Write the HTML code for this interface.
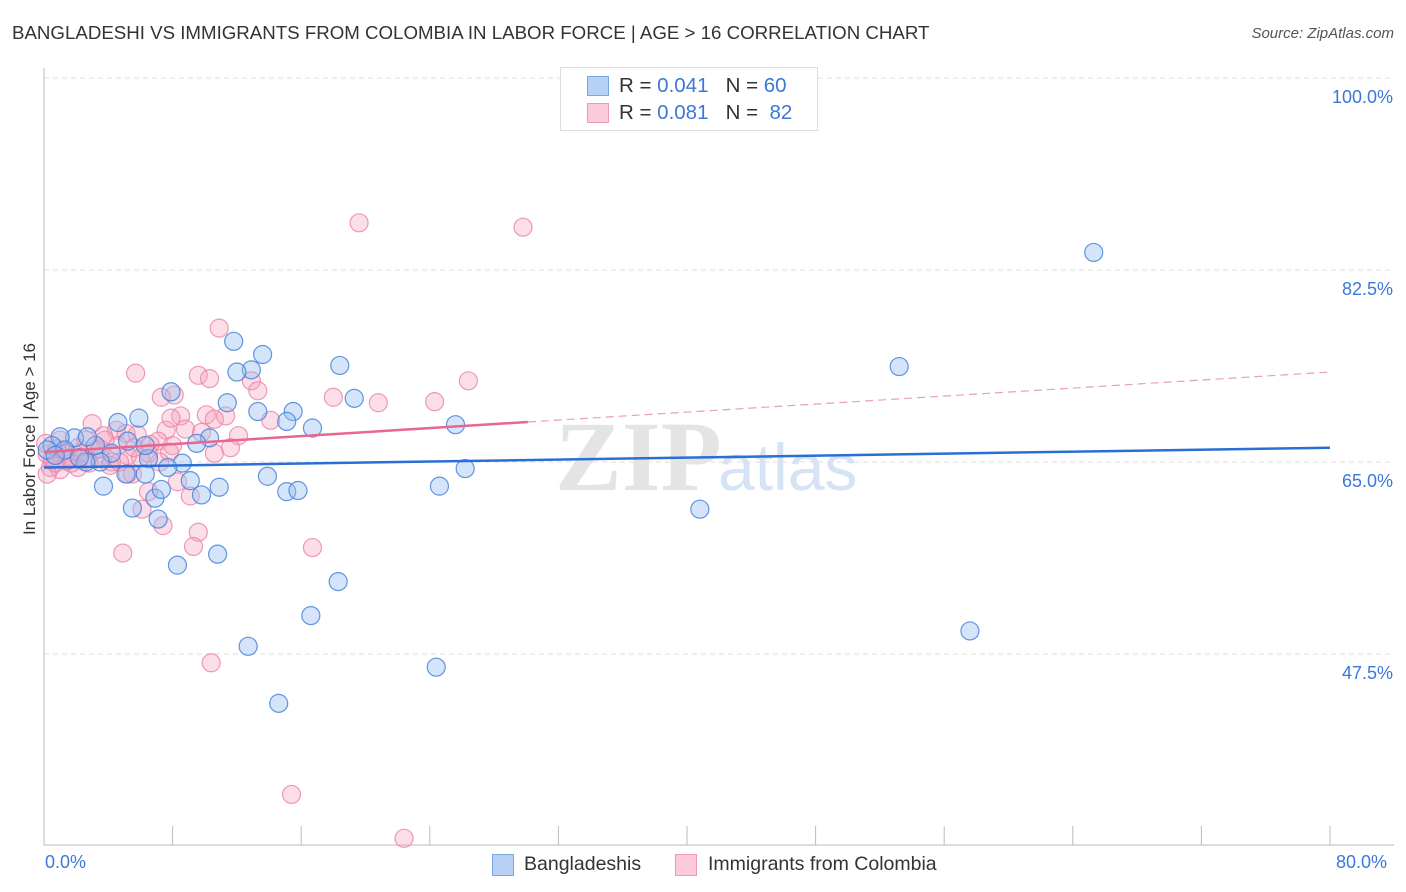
<!DOCTYPE html>
<html><head><meta charset="utf-8"><style>
body{margin:0;background:#fff;font-family:"Liberation Sans",sans-serif;}
#c{position:relative;width:1406px;height:892px;overflow:hidden;}
.t{position:absolute;white-space:nowrap;}
</style></head><body><div id="c">
<div class="t" style="left:12px;top:22px;font-size:18.7px;color:#333;">BANGLADESHI VS IMMIGRANTS FROM COLOMBIA IN LABOR FORCE | AGE &gt; 16 CORRELATION CHART</div>
<div class="t" style="right:12px;top:25px;font-size:15px;color:#555;font-style:italic;">Source: ZipAtlas.com</div>
<div class="t" style="left:-50px;top:445px;font-size:17px;color:#333;transform:rotate(-90deg);width:160px;text-align:center;">In Labor Force | Age &gt; 16</div>
<svg id="s" width="1406" height="892" style="position:absolute;left:0;top:0"></svg>
</div>
<script>
const blueX=[65.3,53.2,40.8,57.6,24.4,14.6,12.7,16.6,18.3,25.6,26.2,24.6,19.3,18.4,16.7,15.5,15.1,15.8,13.9,13.6,12.9,12.0,11.8,13.3,15.1,11.4,10.9,10.8,9.8,9.1,10.3,9.5,8.6,8.3,7.9,7.7,7.1,6.9,7.3,6.5,6.3,5.9,5.5,5.1,4.6,4.2,3.7,3.5,3.2,2.6,1.9,1.0,0.5,0.2,1.3,2.7,5.2,6.3,2.2,0.7];
const blueY=[84.1,73.7,60.7,49.6,46.3,43.0,48.2,51.0,54.1,68.4,64.4,62.8,70.8,73.8,68.1,69.6,62.3,62.4,63.7,74.8,73.4,73.2,76.0,69.6,68.7,70.4,62.7,56.6,62.0,63.3,67.2,66.7,64.9,55.6,71.4,64.5,59.8,61.7,62.5,65.3,63.9,69.0,60.8,63.9,68.6,65.8,62.8,65.0,66.5,65.0,67.2,67.3,66.5,66.1,66.1,67.3,66.9,66.5,65.4,65.6];
const pinkX=[19.6,29.8,10.9,5.7,9.6,10.3,12.9,13.3,26.4,8.1,7.3,18.0,20.8,24.3,8.5,10.1,10.6,11.3,14.1,3.0,8.8,9.8,7.6,12.1,5.8,4.5,5.1,3.7,7.1,8.0,6.5,5.2,4.6,10.6,7.8,6.0,3.5,2.7,2.1,1.4,0.8,0.2,0.4,1.0,2.1,4.2,5.2,5.5,8.3,9.1,6.5,6.1,7.4,9.6,9.3,4.9,16.7,10.4,15.4,22.4,1.6,3.2,4.1,1.0,2.6,0.1,0.5,4.7,5.6,6.6,1.7,2.8,1.4,3.5,0.7,2.2,3.8,7.2,7.9,11.6,0.2,1.2];
const pinkY=[86.8,86.4,77.2,73.1,72.9,72.6,72.4,71.5,72.4,71.1,70.9,70.9,70.4,70.5,69.2,69.3,68.9,69.2,68.8,68.5,68.0,67.7,67.9,67.4,67.5,67.9,67.6,67.4,66.9,66.5,65.8,65.6,66.5,65.8,65.9,65.4,65.4,65.3,66.3,65.9,66.2,65.7,64.5,64.3,64.5,65.0,63.9,63.9,63.2,61.9,62.3,60.7,59.2,58.6,57.3,56.7,57.2,46.7,34.7,30.7,65.4,66.1,64.7,67.0,67.0,66.7,65.2,65.0,66.3,66.6,64.9,64.9,65.1,66.2,64.9,65.8,67.0,65.0,69.0,66.3,63.9,66.0];
const blueTrend=[64.5,66.3];
const pinkTrend=[65.9,73.2];
const pinkSolidEnd=30.1;
const yTicks=[100,82.5,65,47.5];
const yTickLabels=["100.0%","82.5%","65.0%","47.5%"];
const xTicks=[0,8,16,24,32,40,48,56,64,72,80];
const NS="http://www.w3.org/2000/svg";
const svg=document.getElementById('s');
const X=v=>44+v*(1286/80);
const Y=v=>78+(100-v)*(192/17.5);
function el(t,a,p){const e=document.createElementNS(NS,t);for(const k in a)e.setAttribute(k,a[k]);(p||svg).appendChild(e);return e;}
yTicks.forEach((v,i)=>{
 const g=el('line',{x1:44,x2:1394,y1:Y(v),y2:Y(v),stroke:'#ddd','stroke-dasharray':'5,4'});
 
 
 const t=el('text',{x:1393,y:Y(v)+25,'text-anchor':'end','font-size':18,fill:'#3b78d8','font-family':'Liberation Sans'});
 t.textContent=yTickLabels[i];
 
 
});
let a=el('line',{x1:44,x2:44,y1:68,y2:845,stroke:'#bbb'});


a=el('line',{x1:44,x2:1394,y1:845,y2:845,stroke:'#bbb'});


xTicks.forEach(v=>{const l=el('line',{x1:X(v),x2:X(v),y1:826,y2:845,stroke:'#bbb'});
 
 });
let wm=el('text',{x:555,y:490,'font-size':100,fill:'#e4e4e4','font-family':'Liberation Serif','font-weight':'bold'});wm.textContent='ZIP';


wm=el('text',{x:718,y:490,'font-size':66,fill:'#d6e3f5','font-family':'Liberation Sans'});wm.textContent='atlas';


pinkX.forEach((x,i)=>{const c=el('circle',{cx:X(x),cy:Y(pinkY[i]),r:9,fill:'rgba(244,160,190,0.35)',stroke:'rgba(235,130,165,0.8)','stroke-width':1.2});
 
 });
blueX.forEach((x,i)=>{const c=el('circle',{cx:X(x),cy:Y(blueY[i]),r:9,fill:'rgba(150,190,240,0.4)',stroke:'rgba(70,130,220,0.85)','stroke-width':1.2});
 
 });
const pAt=x=>pinkTrend[0]+(pinkTrend[1]-pinkTrend[0])*x/80;
let tl=el('line',{x1:X(0),y1:Y(blueTrend[0]),x2:X(80),y2:Y(blueTrend[1]),stroke:'#2a6fd6','stroke-width':2.5});


tl=el('line',{x1:X(0),y1:Y(pAt(0)),x2:X(pinkSolidEnd),y2:Y(pAt(pinkSolidEnd)),stroke:'#e8668f','stroke-width':2.5});


tl=el('line',{x1:X(pinkSolidEnd),y1:Y(pAt(pinkSolidEnd)),x2:X(80),y2:Y(pAt(80)),stroke:'#e8a0b6','stroke-width':1.2,'stroke-dasharray':'8,5'});


</script>
<div class="t" style="left:45px;top:852px;font-size:18px;color:#3b78d8;">0.0%</div>
<div class="t" style="left:1336px;top:852px;font-size:18px;color:#3b78d8;">80.0%</div>
<div style="position:absolute;left:560px;top:67px;width:256px;height:62px;border:1px solid #ddd;background:#fff;font-size:20.5px;color:#333;">
 <div style="position:absolute;left:26px;top:8px;width:20px;height:18px;background:#b7d1f5;border:1px solid #7aa6e6"></div>
 <div class="t" style="left:58px;top:6px;">R = <span style="color:#3b78d8">0.041</span>&nbsp;&nbsp;&nbsp;N = <span style="color:#3b78d8">60</span></div>
 <div style="position:absolute;left:26px;top:35px;width:20px;height:18px;background:#fbcbd9;border:1px solid #ef9ab5"></div>
 <div class="t" style="left:58px;top:33px;">R = <span style="color:#3b78d8">0.081</span>&nbsp;&nbsp;&nbsp;N = &nbsp;<span style="color:#3b78d8">82</span></div>
</div>
<div style="position:absolute;left:492px;top:853px;font-size:19.5px;color:#333;">
 <div style="position:absolute;left:0;top:1px;width:20px;height:20px;background:#b7d1f5;border:1px solid #7aa6e6"></div>
 <div class="t" style="left:32px;top:0">Bangladeshis</div></div>
<div style="position:absolute;left:675px;top:853px;font-size:19.5px;color:#333;">
 <div style="position:absolute;left:0;top:1px;width:20px;height:20px;background:#fbcbd9;border:1px solid #ef9ab5"></div>
 <div class="t" style="left:33px;top:0">Immigrants from Colombia</div></div>
</body></html>
